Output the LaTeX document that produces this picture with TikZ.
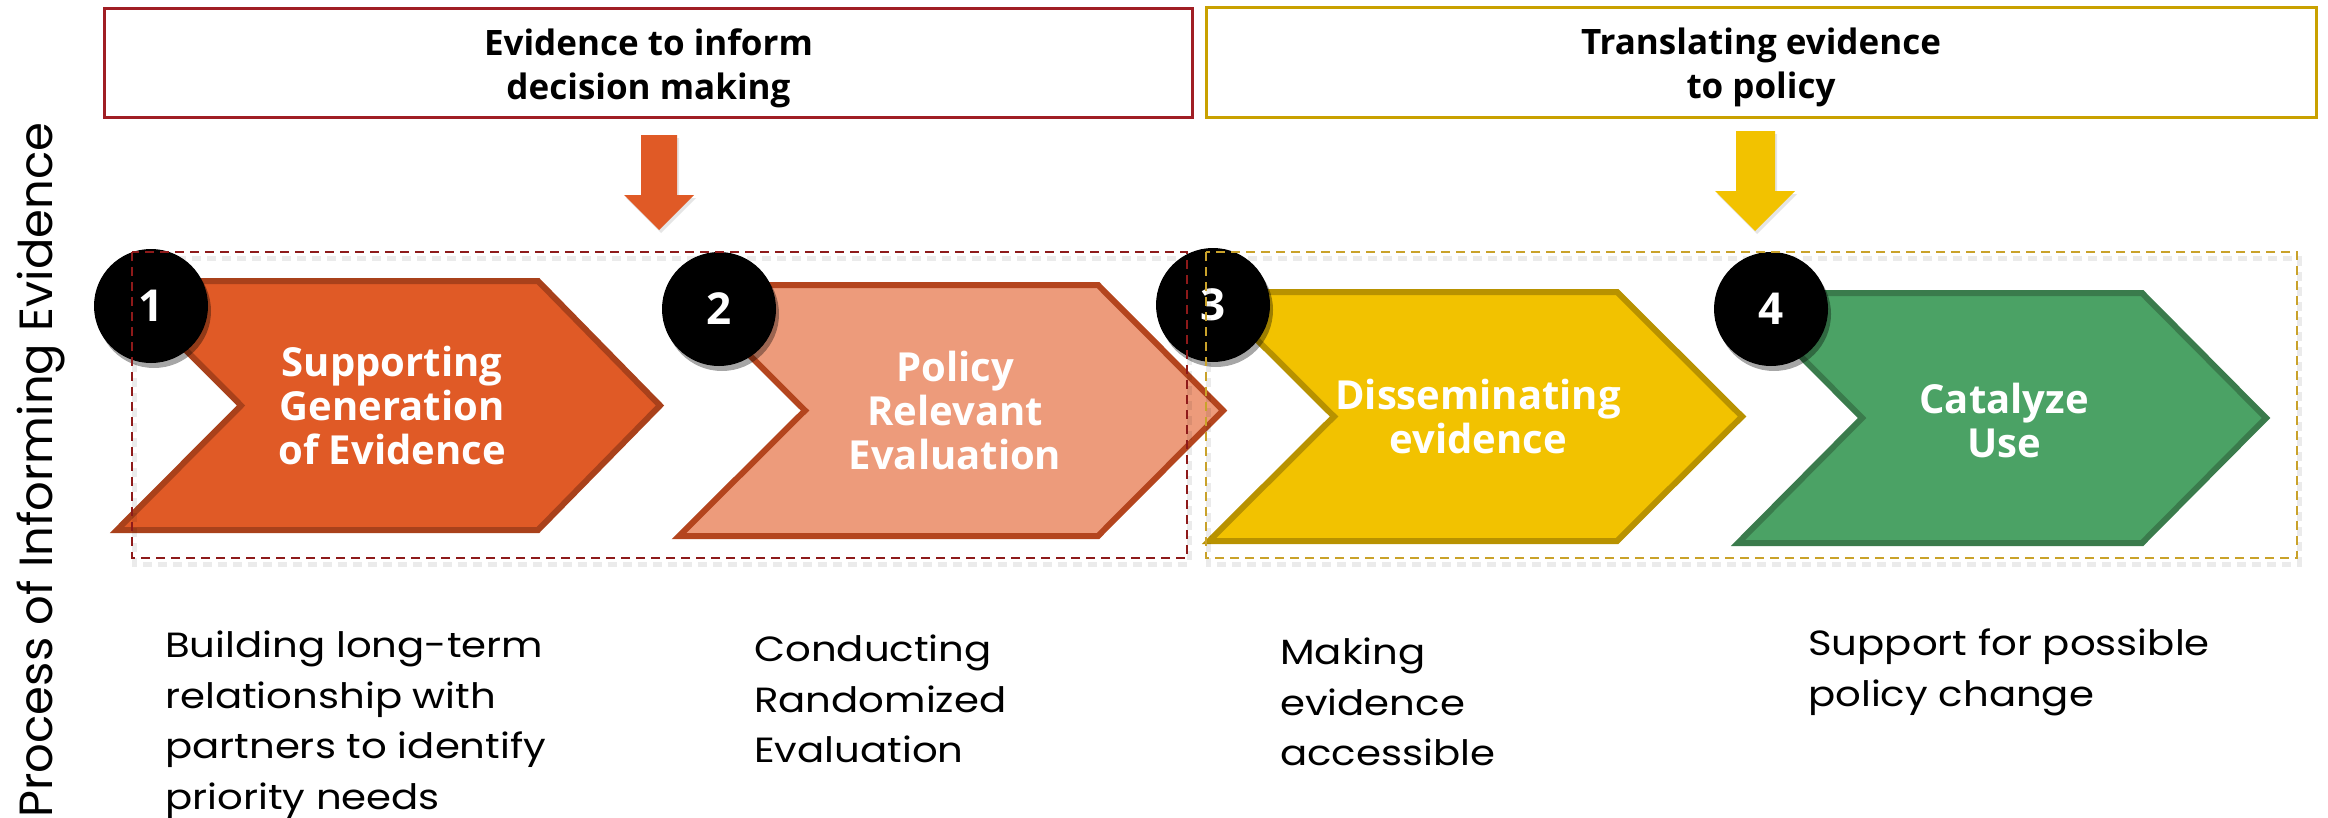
\documentclass[tikz,border=0pt]{standalone}
\usepackage{fontspec}
\setmainfont{Open Sans}
\newfontfamily\gothic{Poppins}[FakeStretch=1.15]
\newfontfamily\sidefont{Poppins}
\usetikzlibrary{shadows}

\definecolor{cOrange}{HTML}{E05A26}
\definecolor{cOrangeLine}{HTML}{A9411B}
\definecolor{cSalmon}{HTML}{ED9B7B}
\definecolor{cSalmonLine}{HTML}{B4451E}
\definecolor{cGold}{HTML}{F2C200}
\definecolor{cGoldLine}{HTML}{B89200}
\definecolor{cGreen}{HTML}{4BA265}
\definecolor{cGreenLine}{HTML}{3A7B4C}
\definecolor{cRedBox}{HTML}{A01E24}
\definecolor{cGoldBox}{HTML}{C9A100}
\definecolor{cRedDash}{HTML}{8E1A1A}
\definecolor{cGoldDash}{HTML}{C9A22A}

\tikzset{
  chev/.style={line width=6bp, line join=miter},
  chevtext/.style={align=center, text=white, inner sep=0pt,
    font=\bfseries\fontsize{40bp}{44bp}\selectfont},
  numcircle/.style={circle, fill=black, minimum size=114bp, inner sep=0pt,
    text=white, font=\bfseries\fontsize{44bp}{44bp}\selectfont,
    drop shadow={shadow xshift=3bp, shadow yshift=-5bp, opacity=0.35, fill=black}},
  topbox/.style={draw, line width=3bp, fill=white, inner sep=0pt},
  toptext/.style={align=center, inner sep=0pt,
    font=\bfseries\fontsize{35bp}{44bp}\selectfont},
  dashbox/.style={line width=2.5bp, dash pattern=on 9bp off 6bp},
  dashshade/.style={line width=5bp, dash pattern=on 9bp off 6bp, draw=black, opacity=0.08},
  desc/.style={align=left, anchor=north west, inner sep=0pt,
    font=\gothic\fontsize{35bp}{50.5bp}\selectfont},
}

\begin{document}
\begin{tikzpicture}[x=1bp, y=-1bp]
\useasboundingbox (0,0) rectangle (2328,817);
\fill[white] (0,0) rectangle (2328,817);

% headline boxes
\node[topbox, draw=cRedBox, minimum width=1087bp, minimum height=108bp] (head1) at (648.5,63) {};
\node[topbox, draw=cGoldBox, minimum width=1110bp, minimum height=109bp] (head2) at (1761,62.5) {};
\node[toptext] (head1text) at ([yshift=-5bp]head1.center) {Evidence to inform\\decision making};
\node[toptext] (head2text) at ([yshift=-5bp]head2.center) {Translating evidence\\to policy};

% block arrows under the headlines
\fill[cOrange, drop shadow={shadow xshift=2bp, shadow yshift=-3bp, opacity=0.2}]
  (641,135) -- (677,135) -- (677,195) -- (694,195) -- (659,230) -- (624,195) -- (641,195) -- cycle;
\fill[cGold, drop shadow={shadow xshift=2bp, shadow yshift=-3bp, opacity=0.2}]
  (1736,131) -- (1775,131) -- (1775,191) -- (1795,191) -- (1755,231) -- (1715,191) -- (1736,191) -- cycle;

% process chevrons
\draw[chev, fill=cOrange, draw=cOrangeLine]
  (117,281) -- (538,281) -- (660,405.5) -- (538,530) -- (117,530) -- (241,405.5) -- cycle;
\draw[chev, fill=cSalmon, draw=cSalmonLine]
  (679,285) -- (1098,285) -- (1223,410.5) -- (1098,536) -- (679,536) -- (805,410.5) -- cycle;
\draw[chev, fill=cGold, draw=cGoldLine]
  (1209,292) -- (1617,292) -- (1742,416.5) -- (1617,541) -- (1209,541) -- (1334,416.5) -- cycle;
\draw[chev, fill=cGreen, draw=cGreenLine]
  (1738,293) -- (2142,293) -- (2266,418) -- (2142,543) -- (1738,543) -- (1862,418) -- cycle;

\node[chevtext] (step1) at (392,405) {Supporting\\Generation\\of Evidence};
\node[chevtext] (step2) at (955,410) {Policy\\Relevant\\Evaluation};
\node[chevtext] (step3) at (1478,416) {Disseminating\\evidence};
\node[chevtext] (step4) at (2004,420) {Catalyze\\Use};

% numbered markers
\node[numcircle] (num1) at (151,306) {1};
\node[numcircle] (num2) at (719,309) {2};
\node[numcircle] (num3) at (1213,305) {3};
\node[numcircle] (num4) at (1771,309) {4};

% dashed groupings
\draw[dashshade] (134,258) rectangle (1189,564);
\draw[dashshade] (1208,258) rectangle (2299,564);
\draw[dashbox, draw=cRedDash] (132,252) rectangle (1187,558);
\draw[dashbox, draw=cGoldDash] (1206,252) rectangle (2297,558);

% descriptions
\node[desc] (desc1) at (165,631) {Building long-term\\relationship with\\partners to identify\\priority needs};
\node[desc] (desc2) at (754,635) {Conducting\\Randomized\\Evaluation};
\node[desc] (desc3) at (1280,638) {Making\\evidence\\accessible};
\node[desc] (desc4) at (1808,629) {Support for possible\\policy change};

% side label
\node[rotate=90, anchor=base, inner sep=0pt, font=\sidefont\fontsize{46.5bp}{46.5bp}\selectfont] (side) at (52,470) {Process of Informing Evidence};
\end{tikzpicture}
\end{document}
